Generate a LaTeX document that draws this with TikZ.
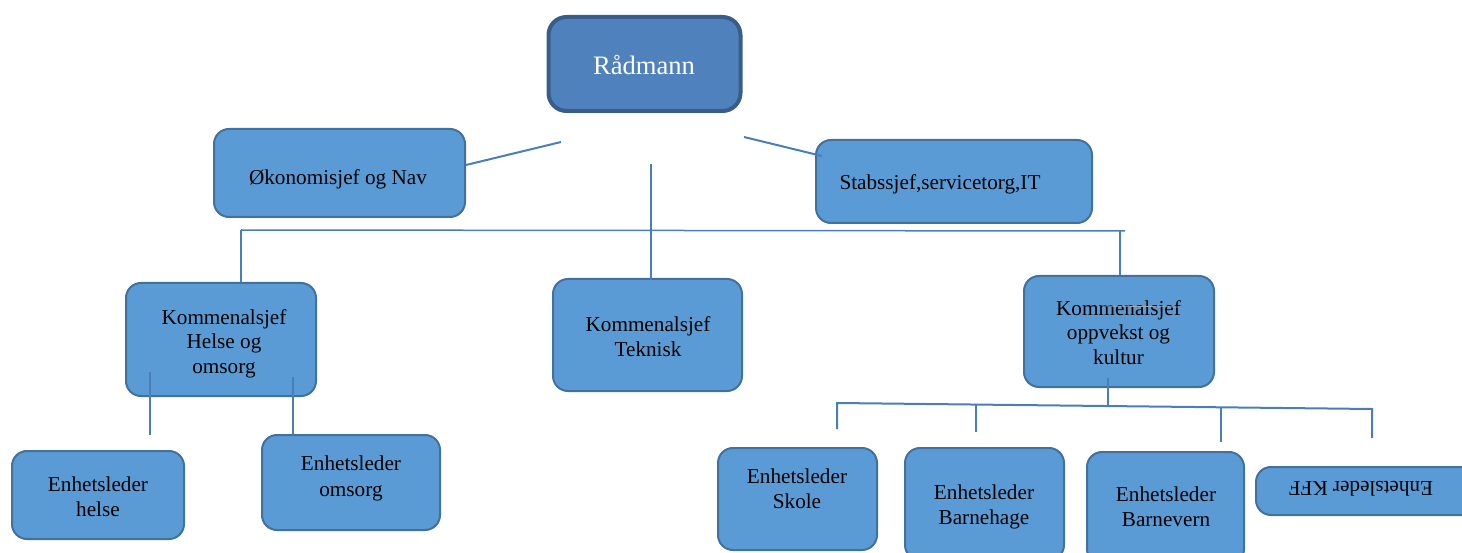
\documentclass[tikz,border=0pt]{standalone}
\usepackage{fontspec}
\setmainfont{Liberation Serif}
\definecolor{boxfill}{HTML}{5B9BD5}
\definecolor{boxline}{HTML}{41719C}
\definecolor{topfill}{HTML}{4F81BD}
\definecolor{topline}{HTML}{385D8A}
\definecolor{conn}{HTML}{4A7EBB}
\tikzset{
  box/.style={draw=boxline, fill=boxfill, line width=2pt, rounded corners=15pt, inner sep=0pt, minimum width=#1},
  topbox/.style={draw=topline, fill=topfill, line width=4pt, rounded corners=18pt, inner sep=0pt},
  txt/.style={anchor=base, inner sep=0pt, font=\fontsize{21.2}{25}\selectfont, text=black},
  link/.style={draw=conn, line width=2pt},
  thinlink/.style={draw=conn, line width=1.5pt},
  faint/.style={draw=gray!70, line width=0.8pt}
}
\begin{document}
\begin{tikzpicture}[x=1pt,y=-1pt]
\useasboundingbox (0,0) rectangle (1462,553);
\clip (0,0) rectangle (1462,553);
% boxes
\node[topbox, minimum width=192pt, minimum height=94pt] (rad) at (644.5,64) {};
\node[box=251pt, minimum height=88pt] (oko) at (339.5,173) {};
\node[box=276pt, minimum height=83pt] (stab) at (954,181.5) {};
\node[box=190pt, minimum height=113pt] (khel) at (221,339.5) {};
\node[box=189pt, minimum height=112pt] (ktek) at (647.5,335) {};
\node[box=190pt, minimum height=111pt] (kopp) at (1119,331.5) {};
\node[box=172pt, minimum height=88pt] (ehel) at (98,495) {};
\node[box=178pt, minimum height=95pt] (eoms) at (351,482.5) {};
\node[box=159pt, minimum height=102pt] (esko) at (797.5,499) {};
\node[box=159pt, minimum height=112pt] (ebhg) at (984.5,504) {};
\node[box=157pt, minimum height=112pt] (ebv) at (1165.5,508) {};
\node[box=236pt, minimum height=48pt] (ekff) at (1374,491) {};
% texts
\node[anchor=base, inner sep=0pt, text=white, font=\fontsize{26.6}{30}\selectfont] (trad) at (644,75) {Rådmann};
\node[txt] (toko) at (338,185) {Økonomisjef og Nav};
\node[txt] (tstab) at (940,190) {Stabssjef,servicetorg,IT};
\node[txt] (tkh1) at (224,324) {Kommenalsjef};
\node[txt] (tkh2) at (224,348.5) {Helse og};
\node[txt] (tkh3) at (224,373) {omsorg};
\node[txt] (tkt1) at (648,332) {Kommenalsjef};
\node[txt] (tkt2) at (648,356.5) {Teknisk};
\node[txt] (tko1) at (1118.5,315.5) {Kommenalsjef};
\node[txt] (tko2) at (1118.5,340) {oppvekst og};
\node[txt] (tko3) at (1118.5,364.5) {kultur};
\node[txt] (teh1) at (98,491) {Enhetsleder};
\node[txt] (teh2) at (98,516) {helse};
\node[txt] (teo1) at (351,470) {Enhetsleder};
\node[txt] (teo2) at (351,496) {omsorg};
\node[txt] (tes1) at (797,483) {Enhetsleder};
\node[txt] (tes2) at (797,508) {Skole};
\node[txt] (teb1) at (984,499) {Enhetsleder};
\node[txt] (teb2) at (984,524) {Barnehage};
\node[txt] (tev1) at (1166,501) {Enhetsleder};
\node[txt] (tev2) at (1166,526) {Barnevern};
\node[anchor=center, inner sep=0pt, font=\fontsize{21.2}{25}\selectfont, rotate=180] (tkff) at (1361,489) {Enhetsleder KFF};
% connector points
\coordinate (a1) at (466,165); \coordinate (a2) at (561,142);
\coordinate (b1) at (744,137); \coordinate (b2) at (822,156);
\coordinate (c1) at (651,164);
\coordinate (h1) at (241,230); \coordinate (h2) at (1125,231);
\coordinate (hr) at (1120,231);
\coordinate (l1) at (150,372); \coordinate (l2) at (150,435);
\coordinate (r1) at (293,377); \coordinate (r2) at (293,434);
\coordinate (o1) at (1108,378); \coordinate (o2) at (1108,405);
\coordinate (g1) at (837,403); \coordinate (g2) at (1372,409);
\coordinate (v1) at (837,429); \coordinate (v2b) at (976,405); \coordinate (v2) at (976,432);
\coordinate (v3b) at (1221,407); \coordinate (v3) at (1221,442);
\coordinate (v4) at (1372,438);
\coordinate (s1) at (1103,306); \coordinate (s2) at (1180,307);
% connectors
\draw[link] (a1) -- (a2);
\draw[link] (b1) -- (b2);
\draw[link] (c1) -- (c1 |- ktek.north) -- ++(0,2);
\draw[thinlink] (h1) -- (h2);
\draw[link] (h1) -- (h1 |- khel.north);
\draw[link] (hr) -- (hr |- kopp.north) -- ++(0,-3);
\draw[link] (l1) -- (l2);
\draw[link] (r1) -- (r2);
\draw[link] (o1) -- (o2);
\draw[link] (v1) -- (g1) -- (g2) -- (v4);
\draw[link] (v2b) -- (v2);
\draw[link] (v3b) -- (v3);
\draw[faint] (s1) -- (s2);
\end{tikzpicture}
\end{document}
